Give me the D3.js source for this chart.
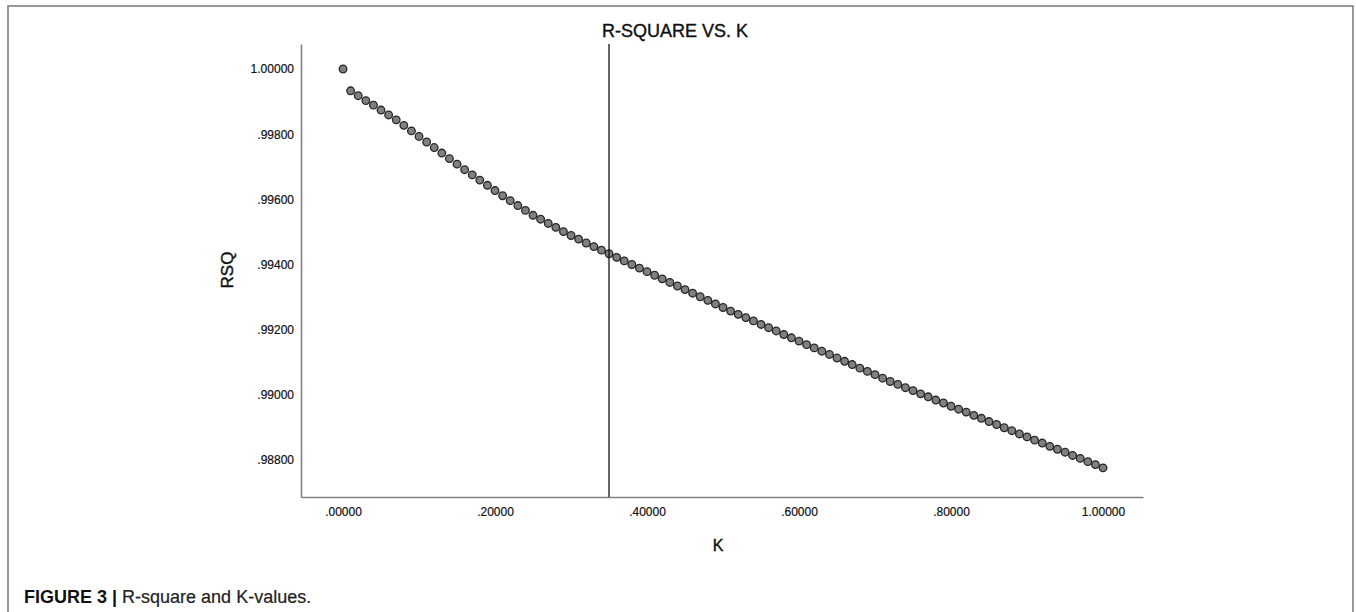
<!DOCTYPE html>
<html>
<head>
<meta charset="utf-8">
<script src="https://cdn.jsdelivr.net/npm/d3@7"></script>
<style>
  body { margin: 0; background: #fff; font-family: "Liberation Sans", Arial, sans-serif; }
</style>
</head>
<body>
<script>
// K values (x) and R-square values (y)
let kValues = [0.00,0.01,0.02,0.03,0.04,0.05,0.06,0.07,0.08,0.09,
  0.10,0.11,0.12,0.13,0.14,0.15,0.16,0.17,0.18,0.19,
  0.20,0.21,0.22,0.23,0.24,0.25,0.26,0.27,0.28,0.29,
  0.30,0.31,0.32,0.33,0.34,0.35,0.36,0.37,0.38,0.39,
  0.40,0.41,0.42,0.43,0.44,0.45,0.46,0.47,0.48,0.49,
  0.50,0.51,0.52,0.53,0.54,0.55,0.56,0.57,0.58,0.59,
  0.60,0.61,0.62,0.63,0.64,0.65,0.66,0.67,0.68,0.69,
  0.70,0.71,0.72,0.73,0.74,0.75,0.76,0.77,0.78,0.79,
  0.80,0.81,0.82,0.83,0.84,0.85,0.86,0.87,0.88,0.89,
  0.90,0.91,0.92,0.93,0.94,0.95,0.96,0.97,0.98,0.99,1.00]
let rsq = [1.00000,0.99933,0.99918,0.99903,0.99889,0.99874,0.99859,0.99844,0.99827,0.99810,
  0.99793,0.99776,0.99759,0.99742,0.99725,0.99708,0.99691,0.99675,0.99659,0.99643,
  0.99627,0.99611,0.99596,0.99581,0.99566,0.99551,0.99539,0.99526,0.99514,0.99501,
  0.99489,0.99478,0.99466,0.99455,0.99444,0.99433,0.99422,0.99411,0.99400,0.99389,
  0.99378,0.99367,0.99356,0.99345,0.99334,0.99323,0.99312,0.99301,0.99290,0.99279,
  0.99268,0.99257,0.99247,0.99237,0.99227,0.99216,0.99206,0.99196,0.99185,0.99175,
  0.99165,0.99154,0.99144,0.99134,0.99124,0.99113,0.99103,0.99093,0.99082,0.99072,
  0.99062,0.99051,0.99041,0.99032,0.99022,0.99013,0.99003,0.98994,0.98984,0.98975,
  0.98965,0.98956,0.98947,0.98937,0.98928,0.98918,0.98909,0.98899,0.98890,0.98880,
  0.98871,0.98861,0.98852,0.98842,0.98833,0.98824,0.98814,0.98805,0.98795,0.98786,0.98776]
let xTicks = [0, 0.2, 0.4, 0.6, 0.8, 1.0]
let yTicks = [0.988, 0.990, 0.992, 0.994, 0.996, 0.998, 1.000]
let refK = 0.35
let title = "R-SQUARE VS. K"

let W = 1356, H = 612
let plot = {left:301, right:1143, top:44, bottom:497}

let svg = d3.select("body").append("svg").attr("width",W).attr("height",H)

// outer frame (bottom edge is off the picture)
svg.append("path")
   .attr("d","M8,640 L8,6 L1353,6 L1353,640")
   .attr("fill","none").attr("stroke","#777").attr("stroke-width",1.5)

let x = d3.scaleLinear().domain([-0.0553, 1.0526]).range([plot.left, plot.right])
let y = d3.scaleLinear().domain([0.986865, 1.000767]).range([plot.bottom, plot.top])

let fmt = (d)=>{
  let s = d3.format(".5f")(d)
  return s.startsWith("0") ? s.slice(1) : s
}

let xAxis = svg.append("g").attr("transform","translate(0,"+plot.bottom+")")
   .call(d3.axisBottom(x).tickValues(xTicks).tickSize(0).tickPadding(10).tickFormat(fmt))
let yAxis = svg.append("g").attr("transform","translate("+plot.left+",0)")
   .call(d3.axisLeft(y).tickValues(yTicks).tickSize(0).tickPadding(7).tickFormat(fmt))

;[xAxis, yAxis].forEach((g)=>{
  g.select(".domain").attr("stroke","#808080").attr("stroke-width",1.6)
  g.selectAll("text").attr("font-family","Liberation Sans, Arial, sans-serif")
   .attr("font-size",12).attr("fill","#111")
   .attr("stroke","#111").attr("stroke-width",0.2)
})

let pts = kValues.map((k,i)=>({k:k, r:rsq[i]}))

svg.append("g").selectAll("circle")
   .data(pts).enter().append("circle")
   .attr("cx",d=>x(d.k)).attr("cy",d=>y(d.r)).attr("r",3.8)
   .attr("fill","#808080").attr("stroke","#262626").attr("stroke-width",1.3)

// reference line
svg.append("line")
   .attr("x1",x(refK)).attr("x2",x(refK))
   .attr("y1",plot.top).attr("y2",plot.bottom)
   .attr("stroke","#111").attr("stroke-width",1.3)

let heavy = (t)=>t.attr("fill","#111").attr("stroke","#111").attr("stroke-width",0.4)

heavy(svg.append("text").attr("x",675).attr("y",37).attr("text-anchor","middle")
   .attr("font-size",18).text(title))

heavy(svg.append("text").attr("transform","translate(233,270) rotate(-90)")
   .attr("text-anchor","middle").attr("font-size",17).text("RSQ"))

heavy(svg.append("text").attr("x",718).attr("y",551).attr("text-anchor","middle")
   .attr("font-size",16).text("K"))

let cap = svg.append("text").attr("x",24).attr("y",603).attr("font-size",18).attr("fill","#222")
cap.append("tspan").attr("font-weight","bold").attr("fill","#111").text("FIGURE 3 | ")
cap.append("tspan").attr("stroke","#222").attr("stroke-width",0.2).text("R-square and K-values.")
</script>
</body>
</html>
